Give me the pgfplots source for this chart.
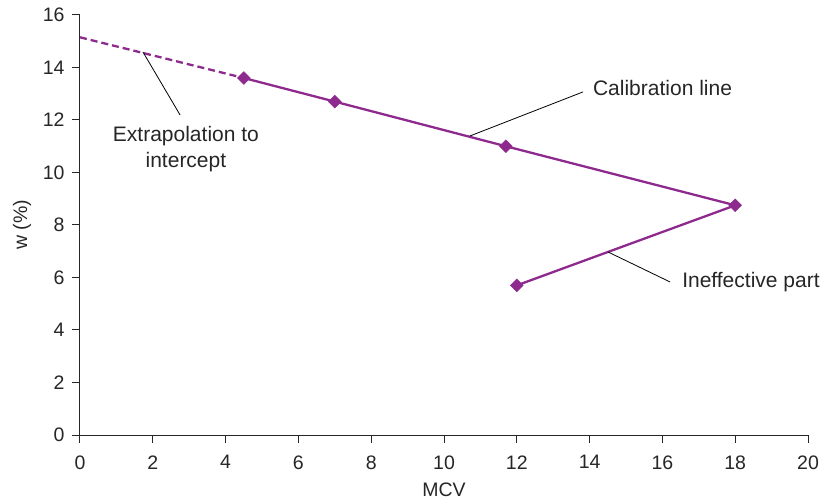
\documentclass[border=0pt]{standalone}
\usepackage{fontspec}
\setmainfont{Liberation Sans}
\usepackage{pgfplots}
\pgfplotsset{compat=1.18}
\definecolor{plum}{HTML}{8E2A8E}
\begin{document}
\begin{tikzpicture}
\path[use as bounding box] (-80bp,-68bp) rectangle (743bp,435bp);
\begin{axis}[
  at={(0,0)}, anchor=south west,
  scale only axis, width=728bp, height=420bp,
  xmin=0, xmax=20, ymin=0, ymax=16,
  axis x line*=bottom, axis y line*=left,
  axis line style={line width=1bp, color=black!85},
  xtick={0,2,...,20}, ytick={0,2,...,16},
  tick align=outside, major tick length=8bp,
  tick style={line width=1bp, color=black!85},
  /pgf/number format/assume math mode=true,
  ticklabel style={font=\fontsize{19.5bp}{21bp}\selectfont, color=black!85},
  xticklabel style={yshift=-9bp},
  yticklabel style={xshift=-4bp},
  xlabel={MCV}, ylabel={w (\%)},
  label style={font=\fontsize{19.5bp}{21bp}\selectfont, color=black!85},
  xlabel style={at={(axis description cs:0.5,-0.131)}, anchor=center},
  ylabel style={at={(axis description cs:-0.0797,0.5)}, anchor=center},
  clip=false,
]
\addplot[plum, line width=2.3bp, dashed, dash pattern=on 7bp off 4bp] coordinates {(0,15.15) (4.5,13.6)};
\addplot[plum, line width=2.3bp, mark=square*, mark size=4.5bp, mark options={solid, rotate=45, fill=plum, draw=plum, line width=0.5bp}] coordinates {
(4.5,13.6) (7,12.7) (11.7,11.0) (18,8.75) (12,5.7)};
\draw[black, line width=0.8bp] (axis cs:1.73,14.59) -- (axis cs:2.75,12.19);
\draw[black, line width=0.8bp] (axis cs:10.71,11.39) -- (axis cs:13.82,13.07);
\draw[black, line width=0.8bp] (axis cs:14.51,6.97) -- (axis cs:16.21,5.83);
\node[align=center, font=\fontsize{21bp}{25.5bp}\selectfont, color=black!85] at (axis cs:2.91,10.9) {Extrapolation to\\intercept};
\node[anchor=west, inner sep=0pt, font=\fontsize{21bp}{24bp}\selectfont, color=black!85] at (axis cs:14.09,13.22) {Calibration line};
\node[anchor=west, inner sep=0pt, font=\fontsize{21bp}{24bp}\selectfont, color=black!85] at (axis cs:16.54,5.83) {Ineffective part};
\end{axis}
\end{tikzpicture}
\end{document}
